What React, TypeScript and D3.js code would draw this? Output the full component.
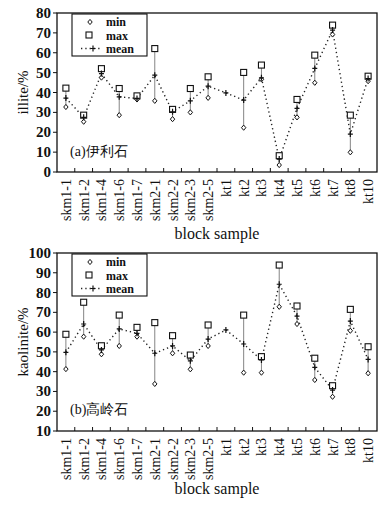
import React, { useEffect, useRef } from "react";
import * as d3 from "d3";

const categories = ["skm1-1", "skm1-2", "skm1-4", "skm1-6", "skm1-7", "skm2-1", "skm2-2", "skm2-3", "skm2-5",
  "kt1", "kt2", "kt3", "kt4", "kt5", "kt6", "kt7", "kt8", "kt10"];

// illite (%)
const illiteMin = [32.7, 25.3, 47.5, 28.6, 36.5, 35.8, 26.6, 30, 37.3, null, 22.3, 46.6, 3.5, 27.5, 44.9, 69.2, 9.9, 45.7];
const illiteMax = [42.2, 28.6, 52, 42, 38.3, 62.1, 31.5, 42, 47.9, null, 50.1, 53.8, 8.2, 36.5, 58.8, 73.9, 28.6, 48.2];
const illiteMean = [37.2, 27.5, 49.5, 37.8, 37, 48.7, 30.3, 35.8, 43.2, 39.8, 36.2, 47.4, 6.5, 32, 52.1, 71.4, 19.1, 47];

// kaolinite (%)
const kaolMin = [41.3, 57.7, 48.8, 53, 57.7, 33.8, 49.3, 41.2, 53, null, 39.5, 39.5, 72.8, 64.1, 35.8, 27.3, 60.7, 39.2];
const kaolMax = [58.9, 75.1, 53.1, 68.6, 62.4, 64.8, 58.2, 48.4, 63.6, null, 68.6, 47.6, 93.9, 73.2, 46.8, 32.9, 71.5, 52.6];
const kaolMean = [49.8, 64.1, 51, 61.6, 59.4, 49.3, 53, 45.5, 56.5, 61.1, 54, 45.9, 84.2, 68.1, 42.2, 30.7, 65.6, 46.2];

const illiteTicks = [0, 10, 20, 30, 40, 50, 60, 70, 80];
const kaolTicks = [10, 20, 30, 40, 50, 60, 70, 80, 90, 100];

const serif = "'Liberation Serif', 'DejaVu Serif', serif";

function drawPanel(svg, o) {
  const x = d3.scaleBand().domain(categories).range([57, 377]);
  const y = d3.scaleLinear().domain(o.domain).range([o.bottom, o.top]);
  const g = svg.append("g");

  // frame
  g.append("rect")
    .attr("x", 57).attr("y", o.top)
    .attr("width", 320).attr("height", o.bottom - o.top)
    .attr("fill", "none").attr("stroke", "#111").attr("stroke-width", 1.3);

  // x ticks at band edges (pointing in)
  categories.slice(1).forEach((c) => {
    const xx = x(c);
    g.append("line")
      .attr("x1", xx).attr("x2", xx)
      .attr("y1", o.bottom).attr("y2", o.bottom - 4)
      .attr("stroke", "#111").attr("stroke-width", 1);
  });

  // y ticks + labels
  o.ticks.forEach((t) => {
    g.append("line")
      .attr("x1", 53).attr("x2", 57)
      .attr("y1", y(t)).attr("y2", y(t))
      .attr("stroke", "#111").attr("stroke-width", 1);
    g.append("text")
      .attr("x", 51).attr("y", y(t) + 5)
      .attr("text-anchor", "end")
      .attr("font-family", serif).attr("font-size", 15)
      .attr("font-weight", "bold").attr("fill", "#111")
      .text(t);
  });

  // x labels, rotated
  categories.forEach((c) => {
    const cx = x(c) + x.bandwidth() / 2;
    g.append("text")
      .attr("transform", `translate(${cx + 5},${o.bottom + 7}) rotate(-90)`)
      .attr("text-anchor", "end")
      .attr("font-family", serif).attr("font-size", 14)
      .attr("fill", "#111")
      .text(c);
  });

  // axis titles
  g.append("text")
    .attr("x", 217).attr("y", o.xTitleY)
    .attr("text-anchor", "middle")
    .attr("font-family", serif).attr("font-size", 16)
    .attr("fill", "#111")
    .text("block sample");
  g.append("text")
    .attr("transform", `translate(28,${(o.top + o.bottom) / 2}) rotate(-90)`)
    .attr("text-anchor", "middle")
    .attr("font-family", serif).attr("font-size", 15)
    .attr("fill", "#111")
    .text(o.yTitle);

  // panel label
  g.append("text")
    .attr("x", 70).attr("y", o.labelY)
    .attr("font-family", serif).attr("font-size", 14)
    .attr("fill", "#111")
    .text(o.label);

  // min-max whiskers
  categories.forEach((c, i) => {
    if (o.min[i] == null) return;
    const cx = x(c) + x.bandwidth() / 2;
    g.append("line")
      .attr("x1", cx).attr("x2", cx)
      .attr("y1", y(o.min[i])).attr("y2", y(o.max[i]))
      .attr("stroke", "#666").attr("stroke-width", 0.8);
  });

  // mean dotted line
  const line = d3.line()
    .x((d, i) => x(categories[i]) + x.bandwidth() / 2)
    .y((d) => y(d));
  g.append("path")
    .datum(o.mean)
    .attr("d", line)
    .attr("fill", "none").attr("stroke", "#222")
    .attr("stroke-width", 1.4).attr("stroke-dasharray", "1.3,3");

  const diamond = (sel, cx, cy) => sel.append("path")
    .attr("d", `M${cx},${cy - 2.6}L${cx + 2.2},${cy}L${cx},${cy + 2.6}L${cx - 2.2},${cy}Z`)
    .attr("fill", "white").attr("stroke", "#111").attr("stroke-width", 1);
  const square = (sel, cx, cy) => sel.append("rect")
    .attr("x", cx - 3).attr("y", cy - 3).attr("width", 6).attr("height", 6)
    .attr("fill", "white").attr("stroke", "#111").attr("stroke-width", 1.1);
  const plus = (sel, cx, cy) => sel.append("path")
    .attr("d", `M${cx - 2.5},${cy}H${cx + 2.5}M${cx},${cy - 3}V${cy + 3}`)
    .attr("stroke", "#111").attr("stroke-width", 1.2);

  categories.forEach((c, i) => {
    const cx = x(c) + x.bandwidth() / 2;
    if (o.min[i] != null) diamond(g, cx, y(o.min[i]));
    if (o.max[i] != null) square(g, cx, y(o.max[i]));
    plus(g, cx, y(o.mean[i]));
  });

  // legend
  const ly = o.top + 1;
  const lg = g.append("g");
  lg.append("rect")
    .attr("x", 72).attr("y", ly).attr("width", 75).attr("height", 42)
    .attr("fill", "white").attr("stroke", "#111").attr("stroke-width", 1.1);
  diamond(lg, 90, ly + 8);
  square(lg, 89, ly + 21);
  lg.append("line")
    .attr("x1", 81).attr("x2", 101).attr("y1", ly + 34.5).attr("y2", ly + 34.5)
    .attr("stroke", "#222").attr("stroke-width", 1.3).attr("stroke-dasharray", "1.3,3");
  plus(lg, 93, ly + 34.5);
  [["min", 12], ["max", 25.5], ["mean", 39]].forEach(([t, dy]) => {
    lg.append("text")
      .attr("x", 106).attr("y", ly + dy)
      .attr("font-family", serif).attr("font-size", 12)
      .attr("font-weight", "bold").attr("fill", "#111")
      .text(t);
  });
}

const App = () => {
  const ref = useRef(null);

  useEffect(() => {
    const svg = d3.select(ref.current);
    svg.selectAll("*").remove();
    svg.append("rect").attr("width", 385).attr("height", 505).attr("fill", "white");

    drawPanel(svg, {
      domain: [0, 80], top: 13, bottom: 172, ticks: illiteTicks,
      min: illiteMin, max: illiteMax, mean: illiteMean,
      yTitle: "illite/%", label: "(a)伊利石", labelY: 156, xTitleY: 239,
    });
    drawPanel(svg, {
      domain: [10, 100], top: 253, bottom: 431, ticks: kaolTicks,
      min: kaolMin, max: kaolMax, mean: kaolMean,
      yTitle: "kaolinite/%", label: "(b)高岭石", labelY: 414, xTitleY: 494,
    });
  }, []);

  return (
    <svg ref={ref} width={385} height={505}
      style={{ position: "absolute", left: 0, top: 0 }} />
  );
};

export default App;
